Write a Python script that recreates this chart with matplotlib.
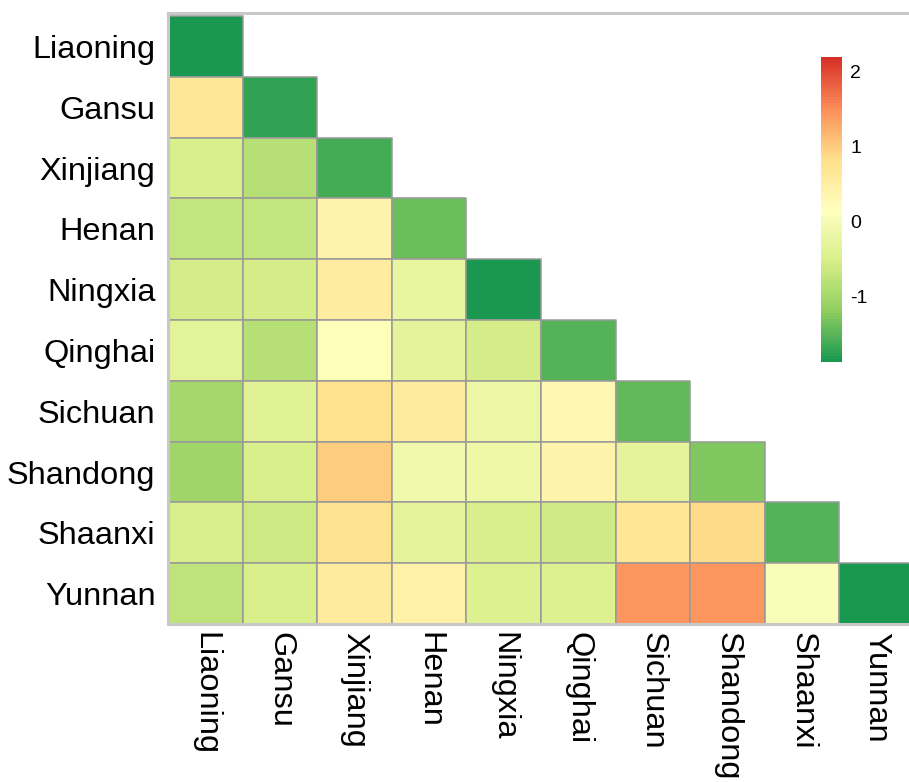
import numpy as np
import matplotlib
matplotlib.use("Agg")
from matplotlib import pyplot as plt
from matplotlib.collections import PatchCollection
from matplotlib.colors import LinearSegmentedColormap, Normalize
from matplotlib.patches import Rectangle

plt.rcParams["font.family"] = ["Liberation Sans", "DejaVu Sans"]

PROVINCES = [
    "Liaoning", "Gansu", "Xinjiang", "Henan", "Ningxia",
    "Qinghai", "Sichuan", "Shandong", "Shaanxi", "Yunnan",
]

# lower triangle, one row per province (row i has i+1 values)
ROW_LIAONING = [-1.85]
ROW_GANSU = [0.65, -1.75]
ROW_XINJIANG = [-0.50, -0.85, -1.62]
ROW_HENAN = [-0.70, -0.70, 0.40, -1.40]
ROW_NINGXIA = [-0.55, -0.55, 0.55, -0.25, -1.85]
ROW_QINGHAI = [-0.35, -0.85, 0.10, -0.30, -0.55, -1.55]
ROW_SICHUAN = [-1.00, -0.40, 0.80, 0.60, -0.20, 0.30, -1.45]
ROW_SHANDONG = [-1.05, -0.50, 1.00, -0.10, -0.15, 0.40, -0.30, -1.30]
ROW_SHAANXI = [-0.50, -0.65, 0.75, -0.30, -0.50, -0.60, 0.70, 0.85, -1.55]
ROW_YUNNAN = [-0.75, -0.50, 0.60, 0.45, -0.45, -0.45, 1.45, 1.45, 0.05, -1.88]

ROWS = [
    ROW_LIAONING, ROW_GANSU, ROW_XINJIANG, ROW_HENAN, ROW_NINGXIA,
    ROW_QINGHAI, ROW_SICHUAN, ROW_SHANDONG, ROW_SHAANXI, ROW_YUNNAN,
]

VMIN, VMAX = -1.88, 2.19
CBAR_TICKS = [-1, 0, 1, 2]

cmap = LinearSegmentedColormap.from_list(
    "rdylgn7_r",
    ["#1a9850", "#91cf60", "#d9ef8b", "#ffffbf", "#fee08b", "#fc8d59", "#d73027"],
    N=100,
)
norm = Normalize(vmin=VMIN, vmax=VMAX)

n = len(PROVINCES)
cells = []
values = []
for i, row in enumerate(ROWS):
    for j, v in enumerate(row):
        cells.append(Rectangle((j, i), 1, 1))
        values.append(v)

fig = plt.figure(figsize=(9.09, 7.82), dpi=100)
ax = fig.add_axes([168 / 909, 1 - 624 / 782, 746 / 909, 611 / 782])

coll = PatchCollection(cells, cmap=cmap, norm=norm, edgecolor="#999999", linewidth=1.1)
coll.set_array(np.asarray(values))
ax.add_collection(coll)
ax.set_xlim(0, n)
ax.set_ylim(n, -0.05)

ax.set_xticks(np.arange(n) + 0.5)
ax.set_xticklabels(PROVINCES, rotation=-90, fontsize=23.4, va="top", ha="center")
ax.set_yticks(np.arange(n) + 0.5)
ax.set_yticklabels(PROVINCES, fontsize=23.4)
ax.tick_params(axis="both", length=0)
ax.tick_params(axis="y", pad=9)
ax.tick_params(axis="x", pad=6)

for spine in ax.spines.values():
    spine.set_color("#c8c8c8")
    spine.set_linewidth(2.2)
ax.spines["right"].set_visible(False)

cax = fig.add_axes([821 / 909, 1 - 362 / 782, 21 / 909, 305 / 782])
cbar = fig.colorbar(coll, cax=cax, ticks=CBAR_TICKS)
cbar.outline.set_visible(False)
cbar.ax.tick_params(length=0, labelsize=14, pad=6)
cbar.ax.set_yticklabels([str(t) for t in CBAR_TICKS])

fig.savefig("out.png", dpi=100)
